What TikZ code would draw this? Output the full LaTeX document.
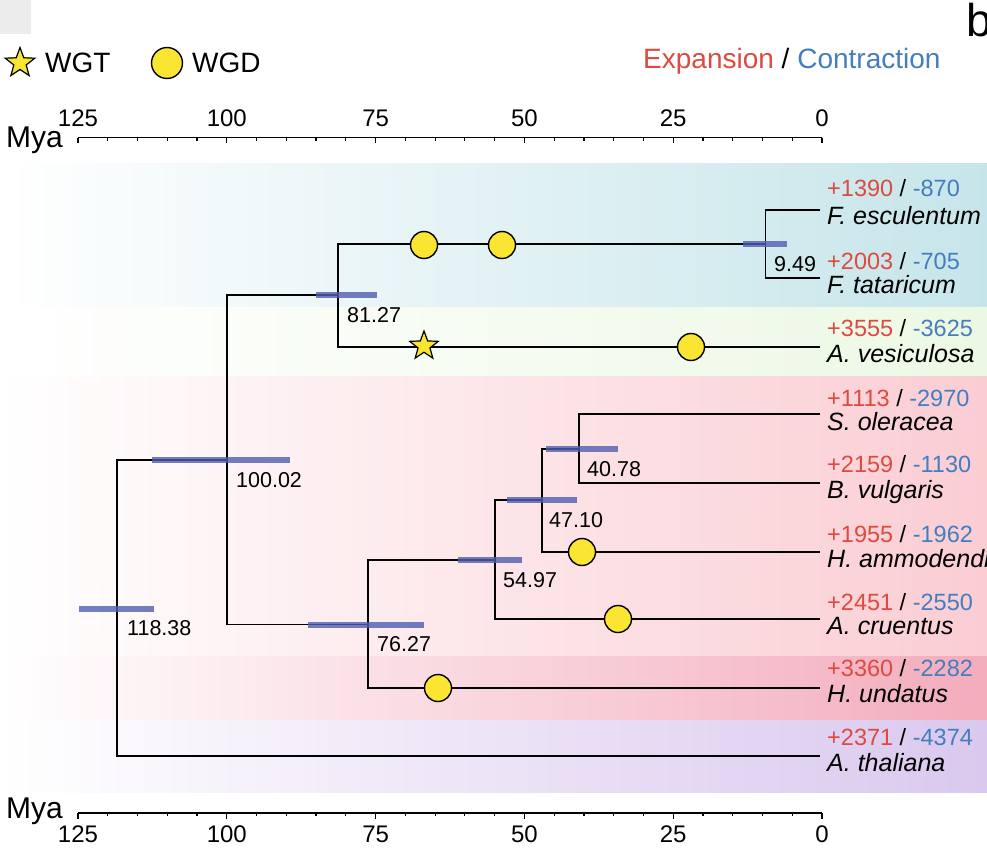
\documentclass[tikz,border=0pt]{standalone}
\usepackage{fontspec}
\setmainfont{Liberation Sans}
\usetikzlibrary{shapes.geometric}
\definecolor{expred}{RGB}{222,74,64}
\definecolor{conblue}{RGB}{68,126,190}
\definecolor{barblue}{RGB}{80,94,176}
\definecolor{wgdyellow}{RGB}{250,230,50}
\definecolor{bandteal}{RGB}{198,229,234}
\definecolor{bandgreen}{RGB}{236,248,228}
\definecolor{bandpink}{RGB}{250,205,211}
\definecolor{banddeep}{RGB}{243,172,188}
\definecolor{bandlav}{RGB}{218,200,238}
\definecolor{cornergray}{RGB}{236,236,236}
\begin{document}
\begin{tikzpicture}[x=1pt,y=-1pt,
  branch/.style={line width=1.9pt, draw=black},
  hpd/.style={line width=6pt, draw=barblue, opacity=0.8},
  wgd/.style={circle, draw=black, line width=1.4pt, fill=wgdyellow, minimum size=27pt, inner sep=0pt},
  wgt/.style={star, star points=5, star point ratio=2.4, draw=black, line width=1.2pt, fill=wgdyellow, minimum size=31pt, inner sep=0pt},
  cnt/.style={anchor=base west, inner sep=0pt, font=\fontsize{23.5}{28}\selectfont},
  sp/.style={anchor=base west, inner sep=0pt, font=\fontsize{25}{30}\selectfont\itshape},
  age/.style={anchor=base west, inner sep=0pt, font=\fontsize{21.5}{26}\selectfont},
  tlab/.style={anchor=base, inner sep=0pt, font=\fontsize{24}{28}\selectfont},
  mya/.style={anchor=base west, inner sep=0pt, font=\fontsize{30}{34}\selectfont},
  leg/.style={anchor=base west, inner sep=0pt, font=\fontsize{28}{32}\selectfont},
  axisline/.style={line width=1.5pt, draw=black},
  tickmark/.style={line width=1.2pt, draw=black},
]
\clip (0,0) rectangle (987,864);
\fill[white] (0,0) rectangle (987,864);
\fill[cornergray] (0,0) rectangle (31,34);

% background bands
\shade[left color=white, right color=bandteal] (0,163) rectangle (987,307);
\shade[left color=white, right color=bandgreen] (0,307) rectangle (987,376);
\shade[left color=white, right color=bandpink] (0,376) rectangle (987,656);
\shade[left color=white, right color=banddeep] (0,656) rectangle (987,720);
\shade[left color=white, right color=bandlav] (0,720) rectangle (987,792);

% legend
\node[wgt] (legstar) at (20,63) {};
\node[leg] (legwgt) at (45,73) {WGT};
\node[wgd, minimum size=31pt] (legcirc) at (167,63) {};
\node[leg] (legwgd) at (192,73) {WGD};
\node[leg] (legec) at (643,69) {{\color{expred}Expansion} / {\color{conblue}Contraction}};
\node[anchor=base west, inner sep=0pt, font=\fontsize{46}{50}\selectfont] (panelb) at (966,37) {b};

% top axis
\node[mya] (myatop) at (6,147) {Mya};
\coordinate (ta125) at (78,137.5);
\coordinate (ta0) at (822,137.5);
\draw[axisline] (ta125) -- (ta0);
\foreach \t in {0,5,...,125} {\draw[tickmark] ({822-5.952*\t},137.5) -- ++(0,3);}
\foreach \t in {0,25,...,125} {
  \draw[tickmark] ({822-5.952*\t},137.5) -- ++(0,5.5);
  \node[tlab] (tt\t) at ({822-5.952*\t},127) {\t};
}

% bottom axis
\node[mya] (myabot) at (6,818) {Mya};
\coordinate (ba125) at (78,813);
\coordinate (ba0) at (822,813);
\draw[axisline] (ba125) -- (ba0);
\foreach \t in {0,5,...,125} {\draw[tickmark] ({822-5.952*\t},813) -- ++(0,3);}
\foreach \t in {0,25,...,125} {
  \draw[tickmark] ({822-5.952*\t},813) -- ++(0,5.5);
  \node[tlab] (bt\t) at ({822-5.952*\t},842) {\t};
}

% internal nodes
\coordinate (n118) at (117.4,608.5);
\coordinate (n100) at (226.7,460);
\coordinate (n81) at (338.3,295);
\coordinate (n9) at (765.5,244);
\coordinate (n76) at (368,624.5);
\coordinate (n55) at (494.8,560);
\coordinate (n47) at (541.7,500);
\coordinate (n41) at (579.3,449);
% leaves
\coordinate (fesc) at (820,210);
\coordinate (ftat) at (820,278);
\coordinate (aves) at (820,347);
\coordinate (sole) at (820,414);
\coordinate (bvul) at (820,483);
\coordinate (hamm) at (820,552);
\coordinate (acru) at (820,619);
\coordinate (hund) at (820,688);
\coordinate (atha) at (820,756);

% branches
\draw[branch] (n118) |- (n100);
\draw[branch] (n118) |- (atha);
\draw[branch] (n100) |- (n81);
\draw[branch] (n100) |- (n76);
\draw[branch] (n81) |- (n9);
\draw[branch] (n81) |- (aves);
\draw[branch] (n9) |- (fesc);
\draw[branch] (n9) |- (ftat);
\draw[branch] (n76) |- (n55);
\draw[branch] (n76) |- (hund);
\draw[branch] (n55) |- (n47);
\draw[branch] (n55) |- (acru);
\draw[branch] (n47) |- (n41);
\draw[branch] (n47) |- (hamm);
\draw[branch] (n41) |- (sole);
\draw[branch] (n41) |- (bvul);

% HPD bars
\draw[hpd] (79,608.5) -- (154,608.5);
\draw[hpd] (152,460) -- (290,460);
\draw[hpd] (316,295) -- (377,295);
\draw[hpd] (743,244) -- (787,244);
\draw[hpd] (308,624.5) -- (424,624.5);
\draw[hpd] (458,560) -- (522,560);
\draw[hpd] (507,500) -- (577,500);
\draw[hpd] (546,449) -- (618,449);

% age labels
\node[age] (l118) at (127,635.5) {118.38};
\node[age] (l100) at (236,487) {100.02};
\node[age] (l81) at (347,322) {81.27};
\node[age] (l9) at (774,271) {9.49};
\node[age] (l76) at (377,651.5) {76.27};
\node[age] (l55) at (503,587) {54.97};
\node[age] (l47) at (549,527) {47.10};
\node[age] (l41) at (587,476) {40.78};

% WGD / WGT events
\node[wgd] (e1) at (424,245) {};
\node[wgd] (e2) at (502,245) {};
\node[wgt, minimum size=30pt] (e3) at (424,346) {};
\node[wgd] (e4) at (691,347) {};
\node[wgd] (e5) at (582,552) {};
\node[wgd] (e6) at (618,619) {};
\node[wgd] (e7) at (438,688) {};

% tip labels
\node[cnt] (c1) at (827,196) {{\color{expred}+1390} / {\color{conblue}-870}};
\node[sp] (s1) at (827,224) {F. esculentum};
\node[cnt] (c2) at (827,269) {{\color{expred}+2003} / {\color{conblue}-705}};
\node[sp] (s2) at (827,293) {F. tataricum};
\node[cnt] (c3) at (827,336) {{\color{expred}+3555} / {\color{conblue}-3625}};
\node[sp] (s3) at (827,362) {A. vesiculosa};
\node[cnt] (c4) at (827,406) {{\color{expred}+1113} / {\color{conblue}-2970}};
\node[sp] (s4) at (827,430) {S. oleracea};
\node[cnt] (c5) at (827,472) {{\color{expred}+2159} / {\color{conblue}-1130}};
\node[sp] (s5) at (827,498) {B. vulgaris};
\node[cnt] (c6) at (827,542) {{\color{expred}+1955} / {\color{conblue}-1962}};
\node[sp] (s6) at (827,567) {H. ammodendron};
\node[cnt] (c7) at (827,610) {{\color{expred}+2451} / {\color{conblue}-2550}};
\node[sp] (s7) at (827,634) {A. cruentus};
\node[cnt] (c8) at (827,676) {{\color{expred}+3360} / {\color{conblue}-2282}};
\node[sp] (s8) at (827,702) {H. undatus};
\node[cnt] (c9) at (827,745) {{\color{expred}+2371} / {\color{conblue}-4374}};
\node[sp] (s9) at (827,771) {A. thaliana};
\end{tikzpicture}
\end{document}
